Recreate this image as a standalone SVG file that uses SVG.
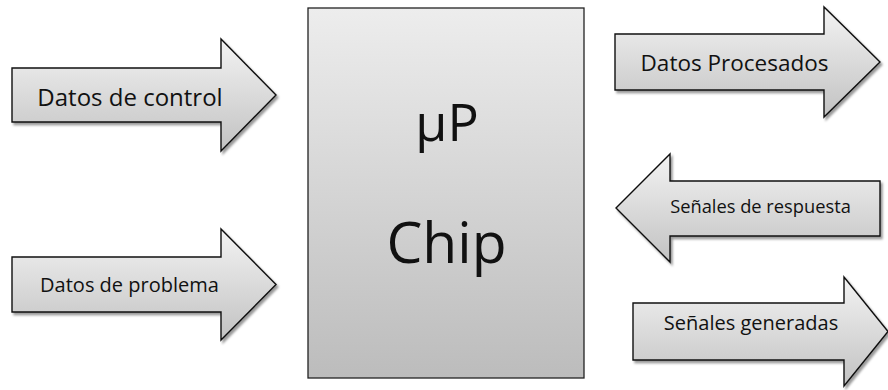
<svg xmlns="http://www.w3.org/2000/svg" width="888" height="390" viewBox="0 0 888 390">
  <defs>
    <linearGradient id="gArrow" x1="0" y1="0" x2="0" y2="1">
      <stop offset="0" stop-color="#f3f3f3"/>
      <stop offset="1" stop-color="#c2c2c2"/>
    </linearGradient>
    <linearGradient id="gBox" x1="0" y1="0" x2="0" y2="1">
      <stop offset="0" stop-color="#ededed"/>
      <stop offset="1" stop-color="#bcbcbc"/>
    </linearGradient>
    <filter id="shadow" x="-10%" y="-10%" width="120%" height="130%">
      <feDropShadow dx="2" dy="2.5" stdDeviation="1" flood-color="#000" flood-opacity="0.4"/>
    </filter>
    <style>
      .arrow { fill: url(#gArrow); stroke: #111; stroke-width: 1.4; stroke-linejoin: miter; filter: url(#shadow); }
      .box { fill: url(#gBox); stroke: #222; stroke-width: 1.3; }
      .lbl { font-family: "Open Sans", "Liberation Sans", sans-serif; fill: #111; text-anchor: middle; }
    </style>
  </defs>
  <rect width="888" height="390" fill="#ffffff"/>

  <g id="connectors">
    <g id="datos-control">
      <path class="arrow" d="M12,68 H221 V39 L276,95 L221,151 V122 H12 Z"/>
      <text class="lbl" x="130" y="106" font-size="24">Datos de control</text>
    </g>
    <g id="datos-problema">
      <path class="arrow" d="M12,257 H221 V229 L276,284.5 L221,340 V312 H12 Z"/>
      <text class="lbl" x="129.5" y="292" font-size="20">Datos de problema</text>
    </g>
    <g id="datos-procesados">
      <path class="arrow" d="M615,34 H824 V7 L880,62 L824,117 V90 H615 Z"/>
      <text class="lbl" x="734.5" y="71" font-size="22.5">Datos Procesados</text>
    </g>
    <g id="senales-respuesta">
      <path class="arrow" d="M880,181 H670 V154 L616,208 L670,262 V236 H880 Z"/>
      <text class="lbl" x="760.5" y="213" font-size="18.3">Señales de respuesta</text>
    </g>
    <g id="senales-generadas">
      <path class="arrow" d="M633,303 H844 V277 L888,331.5 L844,386 V360 H633 Z"/>
      <text class="lbl" x="751" y="330" font-size="20">Señales generadas</text>
    </g>
  </g>

  <g id="chip">
    <rect class="box" x="308" y="8" width="276" height="370"/>
    <text class="lbl" x="447" y="141" font-size="52">µP</text>
    <text class="lbl" x="446.5" y="263" font-size="57">Chip</text>
  </g>
</svg>
